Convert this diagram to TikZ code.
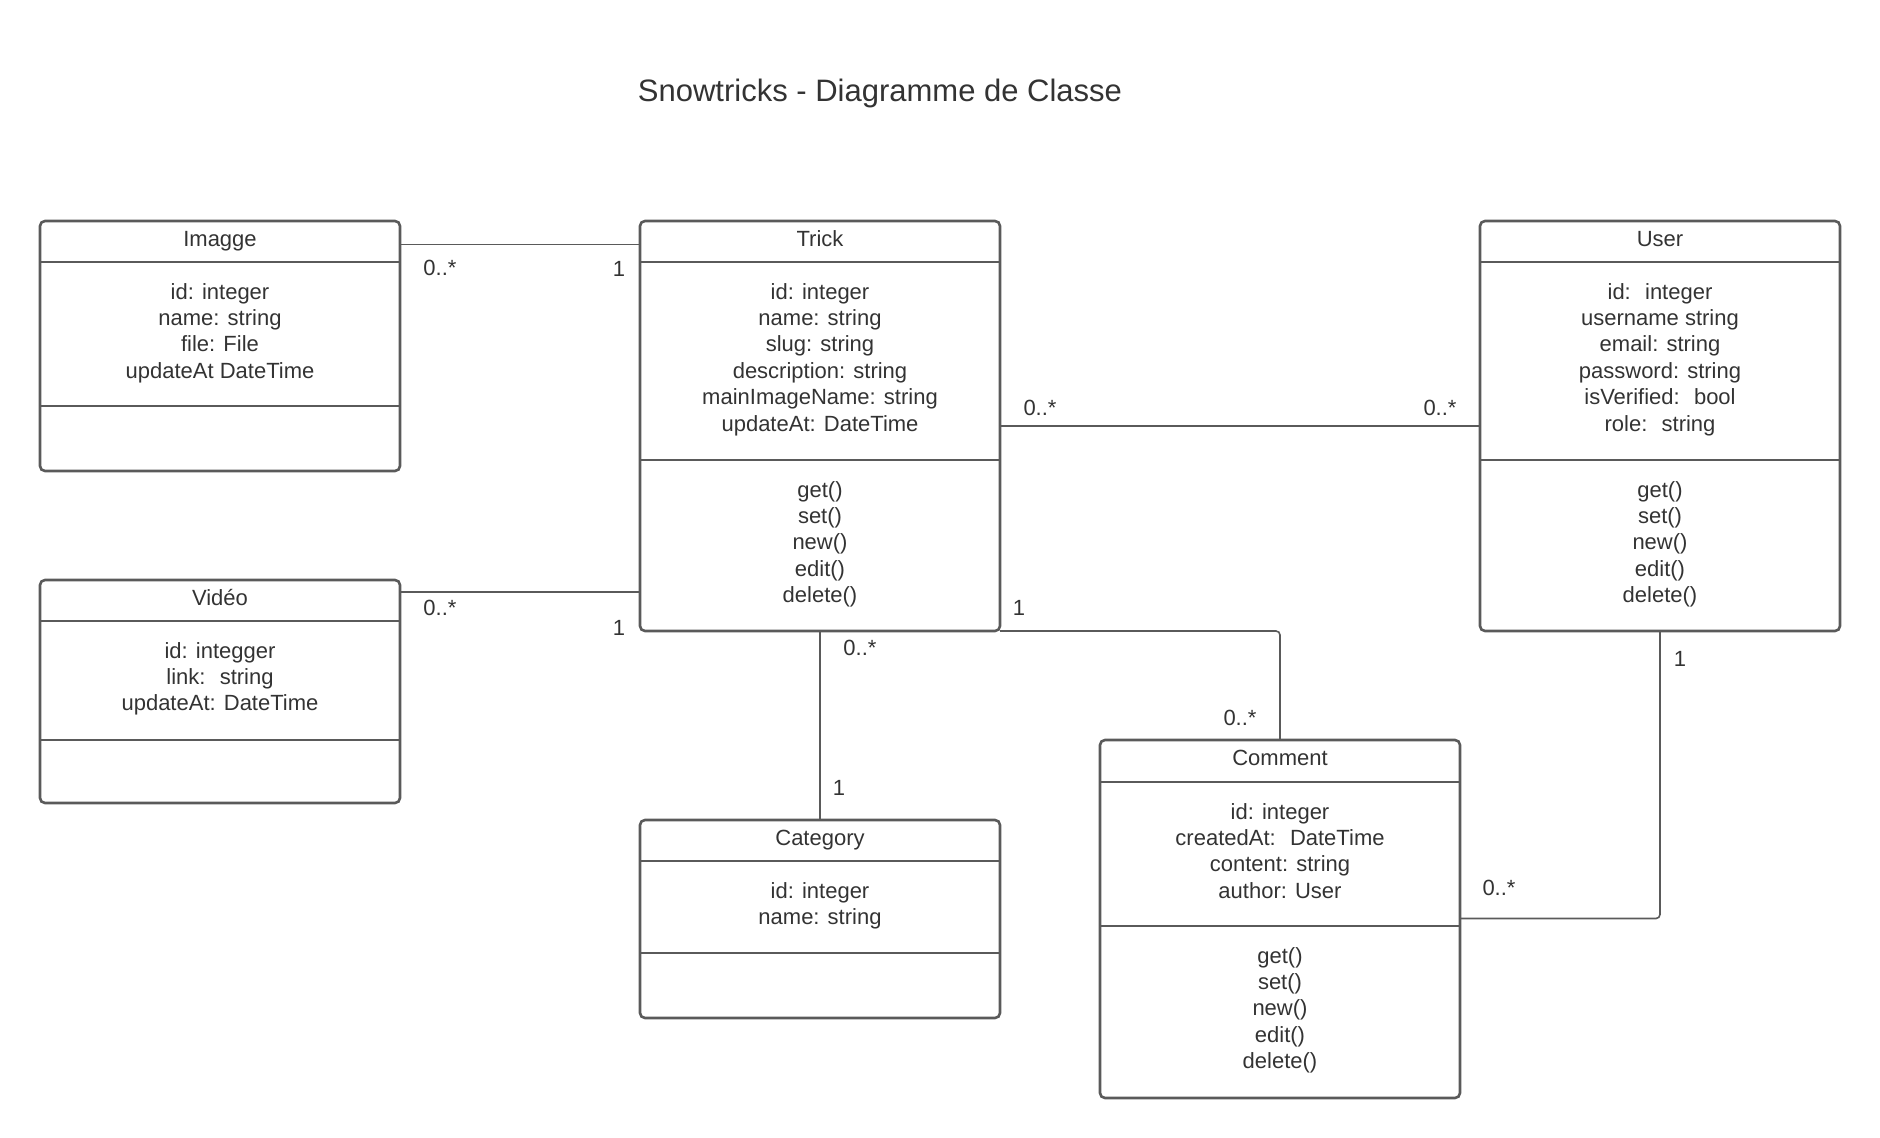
\documentclass[tikz,border=0pt]{standalone}
\usepackage{fontspec}
\setmainfont{Liberation Sans}
\definecolor{linec}{RGB}{90,90,90}
\definecolor{textc}{RGB}{51,51,51}
\begin{document}
\begin{tikzpicture}[x=1pt,y=-1pt,
  classbox/.style={draw=linec, line width=2.6pt, rounded corners=5pt, inner sep=0pt, outer sep=0pt, minimum width=360pt, anchor=north west},
  divider/.style={draw=linec, line width=2.6pt},
  conn/.style={draw=linec, line width=1.6pt},
  comptext/.style={font=\fontsize{22}{26.4}\selectfont, text=textc, align=center, inner sep=0pt, anchor=north},
  headtext/.style={font=\fontsize{22}{26.4}\selectfont, text=textc, inner sep=0pt, anchor=base},
  mult/.style={font=\fontsize{22}{26.4}\selectfont, text=textc, inner sep=0pt, anchor=center},
  titletext/.style={font=\fontsize{31}{36}\selectfont, text=textc, inner sep=0pt, anchor=base}]
\useasboundingbox (0,0) rectangle (1880,1138);

% title
\node[titletext] (title) at (880,101) {Snowtricks - Diagramme de Classe};

% class boxes
\node[classbox, minimum height=250pt] (imagge) at (40,221) {};
\node[classbox, minimum height=410pt] (trick) at (640,221) {};
\node[classbox, minimum height=410pt] (user) at (1480,221) {};
\node[classbox, minimum height=223pt] (video) at (40,580) {};
\node[classbox, minimum height=198pt] (category) at (640,820) {};
\node[classbox, minimum height=358pt] (comment) at (1100,740) {};

% dividers
\draw[divider] (imagge.west |- 0,262) -- (imagge.east |- 0,262);
\draw[divider] (imagge.west |- 0,406) -- (imagge.east |- 0,406);
\draw[divider] (trick.west |- 0,262) -- (trick.east |- 0,262);
\draw[divider] (trick.west |- 0,460) -- (trick.east |- 0,460);
\draw[divider] (user.west |- 0,262) -- (user.east |- 0,262);
\draw[divider] (user.west |- 0,460) -- (user.east |- 0,460);
\draw[divider] (video.west |- 0,621) -- (video.east |- 0,621);
\draw[divider] (video.west |- 0,740) -- (video.east |- 0,740);
\draw[divider] (category.west |- 0,861) -- (category.east |- 0,861);
\draw[divider] (category.west |- 0,953) -- (category.east |- 0,953);
\draw[divider] (comment.west |- 0,782) -- (comment.east |- 0,782);
\draw[divider] (comment.west |- 0,926) -- (comment.east |- 0,926);

% headers
\node[headtext] (imaggeT) at (220,246) {Imagge};
\node[headtext] (trickT) at (820,246) {Trick};
\node[headtext] (userT) at (1660,246) {User};
\node[headtext] (videoT) at (220,605) {Vidéo};
\node[headtext] (categoryT) at (820,845) {Category};
\node[headtext] (commentT) at (1280,765) {Comment};

% attributes
\node[comptext] (imaggeA) at (220,280.5) {\strut id: integer\\name: string\\file: File\\updateAt DateTime};
\node[comptext] (trickA) at (820,280.5) {\strut id: integer\\name: string\\slug: string\\description: string\\mainImageName: string\\updateAt: DateTime};
\node[comptext] (userA) at (1660,280.5) {\strut id:~ integer\\username string\\email: string\\password: string\\isVerified:~ bool\\role:~ string};
\node[comptext] (videoA) at (220,639.5) {\strut id: integger\\link:~ string\\updateAt: DateTime};
\node[comptext] (categoryA) at (820,879.5) {\strut id: integer\\name: string};
\node[comptext] (commentA) at (1280,800.5) {\strut id: integer\\createdAt:~ DateTime\\content: string\\author: User};

% methods
\node[comptext] (trickM) at (820,478.5) {\strut get()\\set()\\new()\\edit()\\delete()};
\node[comptext] (userM) at (1660,478.5) {\strut get()\\set()\\new()\\edit()\\delete()};
\node[comptext] (commentM) at (1280,944.5) {\strut get()\\set()\\new()\\edit()\\delete()};

% connectors
\draw[conn] (imagge.east |- 0,244.5) -- (trick.west |- 0,244.5);
\draw[conn] (video.east |- 0,592) -- (trick.west |- 0,592);
\draw[conn] (trick.east |- 0,426) -- (user.west |- 0,426);
\draw[conn, rounded corners=4pt] (trick.south east) -| (comment.north);
\draw[conn] (trick.south) -- (category.north);
\draw[conn, rounded corners=4pt] (user.south) |- (comment.east |- 0,918.5);

% multiplicities
\node[mult] (m1) at (440,268) {0..*};
\node[mult] (m2) at (619,269) {1};
\node[mult] (m3) at (440,608) {0..*};
\node[mult] (m4) at (619,628) {1};
\node[mult] (m5) at (1040,408) {0..*};
\node[mult] (m6) at (1440,408) {0..*};
\node[mult] (m7) at (1019,608) {1};
\node[mult] (m8) at (1240,718) {0..*};
\node[mult] (m9) at (860,648) {0..*};
\node[mult] (m10) at (839,788) {1};
\node[mult] (m11) at (1680,659) {1};
\node[mult] (m12) at (1499,888) {0..*};
\end{tikzpicture}
\end{document}
